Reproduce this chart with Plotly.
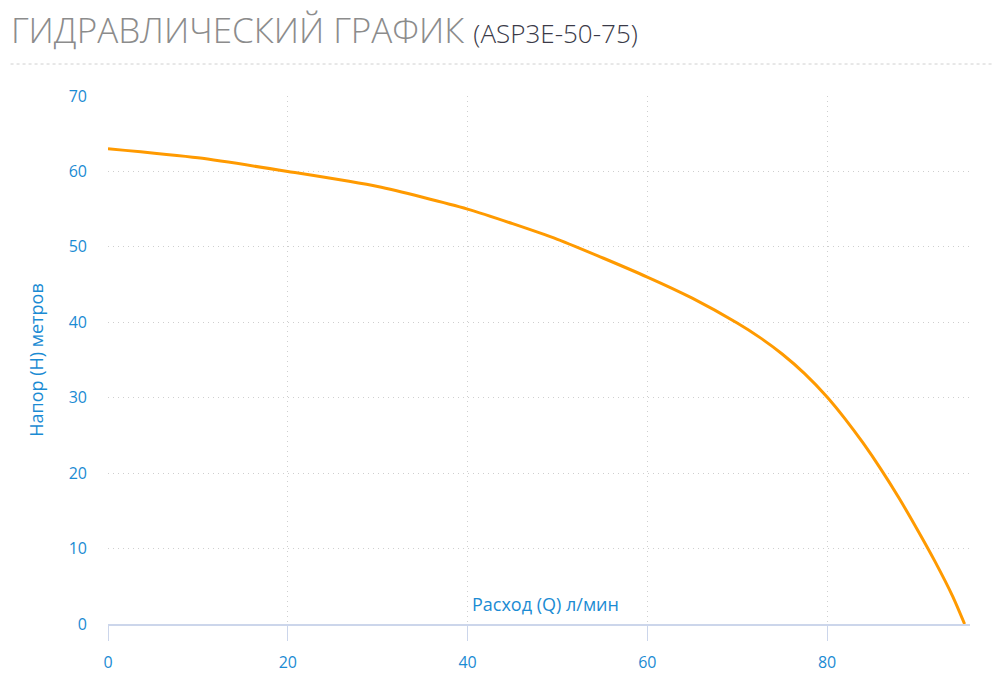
import plotly.graph_objects as go

# Гидравлическая характеристика насоса ASP3E-50-75
flow_q = [0, 10, 20, 30, 40, 50, 60, 65, 70, 72.5, 75, 77.5, 80, 82, 84, 86, 88, 90, 92, 94, 95.3]
head_h = [63, 61.8, 60, 58, 55, 51, 46, 43.2, 39.9, 38, 35.8, 33.2, 30.1, 27.2, 24.0, 20.5, 16.7, 12.6, 8.3, 3.6, 0]

x_ticks = [0, 20, 40, 60, 80]
y_ticks = [0, 10, 20, 30, 40, 50, 60, 70]

blue = "#1b8bd3"
axis_col = "#ccd6eb"
grid_col = "#cfcfcf"

fig = go.Figure(
    go.Scatter(
        x=flow_q,
        y=head_h,
        mode="lines",
        line=dict(color="#ff9a00", width=3, shape="spline", smoothing=0.6),
        hovertemplate="Q: %{x} л/мин<br>H: %{y} м<extra></extra>",
    )
)

# страница имеет отступ 8px, поэтому поля сдвинуты
fig.update_layout(
    width=1000,
    height=698,
    paper_bgcolor="white",
    plot_bgcolor="white",
    showlegend=False,
    margin=dict(l=100, r=38, t=88, b=82, autoexpand=False),
    font=dict(family="Open Sans", color=blue, size=16),
    title=dict(
        text="ГИДРАВЛИЧЕСКИЙ ГРАФИК <span style='font-size:26px;color:#3a3a48'>(ASP3E-50-75)</span>",
        x=0.003,
        xanchor="left",
        y=1 - 23 / 698,
        yanchor="middle",
        font=dict(family="Open Sans", size=35, color="#8c8c8c", weight=300),
    ),
)

fig.update_xaxes(
    range=[0, 95.9],
    tickvals=x_ticks,
    showgrid=True,
    gridcolor=grid_col,
    griddash="1px,4px",
    gridwidth=1,
    showline=True,
    linecolor=axis_col,
    linewidth=2,
    ticks="outside",
    ticklen=15,
    tickcolor=axis_col,
    tickwidth=1,
    ticklabelstandoff=8,
    tickfont=dict(color=blue, size=16),
    zeroline=False,
)
fig.update_yaxes(
    range=[0, 70],
    tickvals=y_ticks,
    showgrid=True,
    gridcolor=grid_col,
    griddash="1px,4px",
    gridwidth=1,
    showline=False,
    ticks="",
    ticklabelstandoff=20,
    tickfont=dict(color=blue, size=16),
    zeroline=False,
    automargin=False,
    title=dict(text="Напор (H) метров", font=dict(color=blue, size=18), standoff=20),
)

# подпись оси X стоит внутри области графика, над осью
fig.add_annotation(
    text="Расход (Q) л/мин",
    xref="paper", yref="paper",
    x=0.507, y=0,
    yanchor="middle",
    yshift=20,
    showarrow=False,
    font=dict(color=blue, size=18),
)

# пунктирная линия под заголовком
fig.add_shape(
    type="line",
    xref="paper", yref="paper",
    x0=-0.12, x1=1.025,
    y0=1 + 32 / 528, y1=1 + 32 / 528,
    line=dict(color="#d0d0d0", width=1, dash="3px,3px"),
)

fig.write_html("out.html")
